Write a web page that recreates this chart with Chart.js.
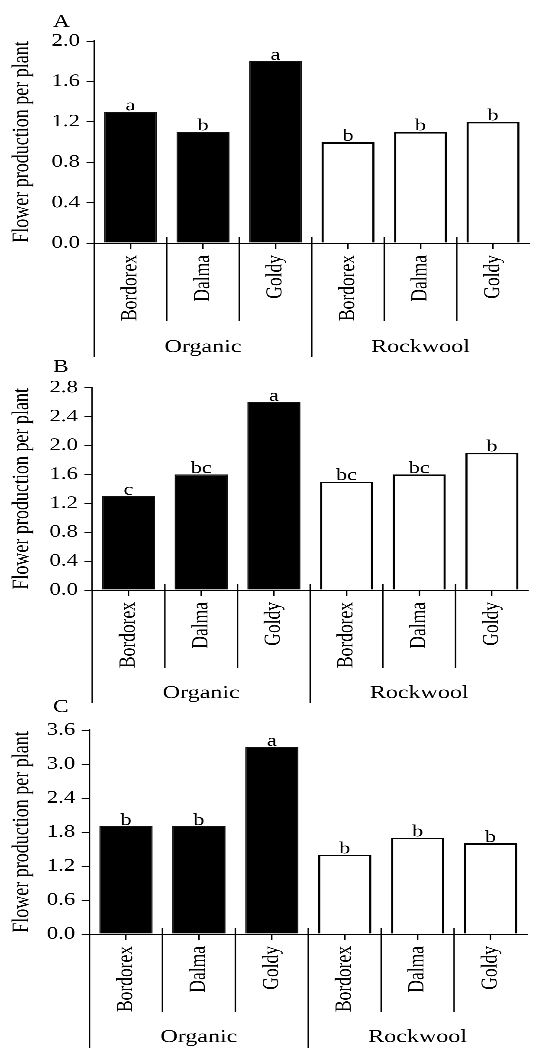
<!DOCTYPE html>
<html>
<head>
<meta charset="utf-8">
<script src="https://cdn.jsdelivr.net/npm/chart.js@4.4.0/dist/chart.umd.min.js"></script>
<style>
  body { margin: 0; background: #fff; width: 539px; height: 1048px; overflow: hidden; position: relative; }
  /* the figure is wider than tall in its lettering, so each panel is stretched a bit sideways */
  .panel { position: absolute; left: 0; width: 415px; transform-origin: 0 0; transform: scaleX(1.2988); }
</style>
</head>
<body>
<div class="panel" style="top:0px;height:360px"><canvas id="panelA"></canvas></div>
<div class="panel" style="top:340px;height:365px"><canvas id="panelB"></canvas></div>
<div class="panel" style="top:680px;height:368px"><canvas id="panelC"></canvas></div>

<script>
// data
const categories = ['Bordorex', 'Dalma', 'Goldy', 'Bordorex', 'Dalma', 'Goldy'];
const groups = ['Organic', 'Rockwool'];
const yTitle = 'Flower production per plant';

const valuesA = [1.3, 1.1, 1.8, 1.0, 1.1, 1.2];
const lettersA = ['a', 'b', 'a', 'b', 'b', 'b'];
const valuesB = [1.3, 1.6, 2.6, 1.5, 1.6, 1.9];
const lettersB = ['c', 'bc', 'a', 'bc', 'bc', 'b'];
const valuesC = [1.9, 1.9, 3.3, 1.4, 1.7, 1.6];
const lettersC = ['b', 'b', 'a', 'b', 'b', 'b'];

const yMaxA = 2.0, yStepA = 0.4;
const yMaxB = 2.8, yStepB = 0.4;
const yMaxC = 3.6, yStepC = 0.6;

const SX = 1.2988;
const FONT = "'Liberation Serif', 'Times New Roman', serif";
const LINE = '#000';
const LW = 1.1;

// colours per bar: organic black, rockwool white
const fills = ['#000', '#000', '#000', '#fff', '#fff', '#fff'];
const borders = ['#111', '#111', '#111', '#000', '#000', '#000'];
const borderW = [1, 1, 1, 1.7, 1.7, 1.7];

// letters above the bars + category separators + group names
const groupPlugin = {
  id: 'groupPlugin',
  afterDatasetsDraw(chart, args, opts) {
    const ctx = chart.ctx;
    const meta = chart.getDatasetMeta(0);
    ctx.save();
    ctx.fillStyle = '#000';
    ctx.font = '17px ' + FONT;
    ctx.textAlign = 'center';
    ctx.textBaseline = 'alphabetic';
    meta.data.forEach((bar, i) => {
      ctx.fillText(opts.letters[i], bar.x, bar.y - 1.5);
    });
    ctx.restore();
  },
  afterDraw(chart, args, opts) {
    const ctx = chart.ctx;
    const x = chart.scales.x;
    const bottom = chart.chartArea.bottom;
    ctx.save();
    ctx.strokeStyle = LINE;
    ctx.lineWidth = LW;
    // left line
    ctx.beginPath();
    ctx.moveTo(x.left, bottom);
    ctx.lineTo(x.left, opts.groupEnd);
    ctx.stroke();
    for (let i = 1; i < categories.length; i++) {
      const bx = (x.getPixelForValue(i - 1) + x.getPixelForValue(i)) / 2;
      ctx.beginPath();
      ctx.moveTo(bx, bottom - 6);
      ctx.lineTo(bx, i === 3 ? opts.groupEnd : opts.sepEnd);
      ctx.stroke();
    }
    // group names
    ctx.fillStyle = '#000';
    ctx.font = '18.5px ' + FONT;
    ctx.textAlign = 'center';
    ctx.textBaseline = 'middle';
    const mid = (x.getPixelForValue(2) + x.getPixelForValue(3)) / 2;
    ctx.fillText(groups[0], (x.left + mid) / 2, opts.groupText);
    ctx.fillText(groups[1], (mid + x.right) / 2, opts.groupText);
    // panel letter
    ctx.font = '18px ' + FONT;
    ctx.textAlign = 'left';
    ctx.textBaseline = 'alphabetic';
    ctx.fillText(opts.panel, 40.8, opts.panelY);
    ctx.restore();
  }
};

function makePanel(id, values, letters, yMax, yStep, lay) {
  const ctx = document.getElementById(id).getContext('2d');
  return new Chart(ctx, {
    type: 'bar',
    data: {
      labels: categories,
      datasets: [{
        data: values,
        backgroundColor: fills,
        borderColor: borders,
        borderWidth: borderW,
        categoryPercentage: 1,
        barPercentage: 0.73
      }]
    },
    options: {
      responsive: true,
      maintainAspectRatio: false,
      animation: false,
      devicePixelRatio: 3,
      layout: { padding: { left: 0, right: 415 - lay.right, top: lay.top, bottom: 0 } },
      plugins: {
        legend: { display: false },
        tooltip: { enabled: false },
        groupPlugin: {
          letters: letters,
          sepEnd: lay.sepEnd,
          groupEnd: lay.groupEnd,
          groupText: lay.groupText,
          panel: lay.panel,
          panelY: lay.panelY
        }
      },
      scales: {
        x: {
          grid: { display: true, drawOnChartArea: false, drawTicks: true, tickLength: 6, offset: false, color: LINE, lineWidth: LW },
          border: { display: true, color: LINE, width: 1 },
          ticks: {
            autoSkip: false, minRotation: 90, maxRotation: 90, padding: 6,
            color: '#000', font: { family: FONT, size: 17.5 }
          },
          afterFit(scale) { scale.height = lay.height - lay.bottom; }
        },
        y: {
          min: 0, max: yMax,
          grid: { display: true, drawOnChartArea: false, drawTicks: true, tickLength: 6, color: LINE, lineWidth: 1 },
          border: { display: true, color: LINE, width: LW },
          ticks: {
            stepSize: yStep, padding: 5, color: '#000',
            font: { family: FONT, size: 17.5 },
            callback: v => v.toFixed(1)
          },
          title: { display: true, text: yTitle, color: '#000', font: { family: FONT, size: 18 }, padding: { top: 6, bottom: 0 } },
          afterFit(scale) { scale.width = lay.left; }
        }
      }
    },
    plugins: [groupPlugin]
  });
}

makePanel('panelA', valuesA, lettersA, yMaxA, yStepA, {
  height: 360, top: 41, bottom: 243, left: 94.25 / SX, right: 529.25 / SX,
  sepEnd: 321, groupEnd: 357, groupText: 347, panel: 'A', panelY: 27
});
makePanel('panelB', valuesB, lettersB, yMaxB, yStepB, {
  height: 365, top: 47.7, bottom: 250, left: 92.2 / SX, right: 528.2 / SX,
  sepEnd: 328, groupEnd: 363, groupText: 353, panel: 'B', panelY: 32
});
makePanel('panelC', valuesC, lettersC, yMaxC, yStepC, {
  height: 368, top: 50, bottom: 254, left: 89.5 / SX, right: 527 / SX,
  sepEnd: 332, groupEnd: 368, groupText: 357, panel: 'C', panelY: 32
});
</script>
</body>
</html>
